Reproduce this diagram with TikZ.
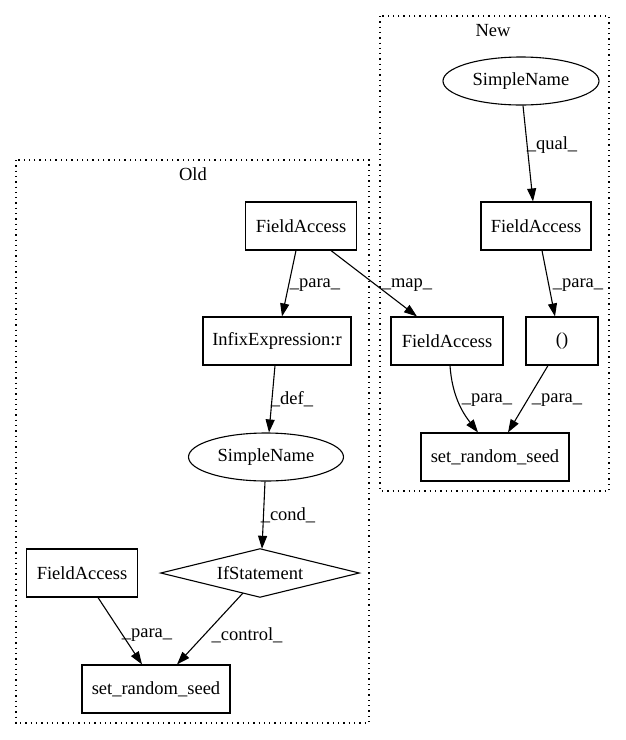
\documentclass[tikz,border=0pt]{standalone}
\usepackage{fontspec}
\setmainfont{Liberation Serif}
\usetikzlibrary{arrows.meta,shapes.geometric}
\begin{document}
\begin{tikzpicture}[x=1pt,y=-1pt,
  every node/.style={font=\fontsize{18.5}{22}\selectfont, inner sep=0pt},
  box/.style={draw, line width=1.1pt, rectangle, minimum height=48pt},
  oval/.style={draw, line width=1.1pt, ellipse, minimum width=156pt, minimum height=48pt},
  blank/.style={rectangle, minimum height=48pt},
  edge/.style={line width=1.1pt, -{Triangle[length=13pt,width=9pt]}},
  cluster/.style={line width=1.3pt, dash pattern=on 1.3pt off 4pt},
  lbl/.style={font=\fontsize{18.5}{22}\selectfont}]
\useasboundingbox (0,0) rectangle (625,740);
% clusters
\draw[cluster] (16,160) rectangle (369,723);
\draw[cluster] (380,16) rectangle (609,491);
\node (oldlbl) at (193,174) {Old};
\node (newlbl) at (493,31) {New};
% nodes
\node[oval] (snN) at (521,81) {SimpleName};
\node[box, minimum width=110pt] (faN) at (536,226) {FieldAccess};
\node[box, minimum width=111pt] (faO) at (301,226) {FieldAccess};
\node[box, minimum width=148pt] (infix) at (277,341) {InfixExpression:r};
\node[box, minimum width=112pt] (faM) at (447,341) {FieldAccess};
\node[box, minimum width=72pt] (par) at (562,341) {()};
\node[oval, minimum width=155pt] (snO) at (266,457) {SimpleName};
\node[box, minimum width=148pt] (srsN) at (495,457) {set\_random\_seed};
\node[box, minimum width=111pt] (faT) at (82,573) {FieldAccess};
\node[blank, minimum width=198pt] (ifs) at (260,573) {IfStatement};
\draw[line width=1.1pt] (ifs.west) -- (ifs.north) -- (ifs.east) -- (ifs.south) -- cycle;
\node[box, minimum width=148pt] (srsO) at (156,689) {set\_random\_seed};
% edges
\draw[edge] ([xshift=2pt]snN.south) -- ([xshift=-3pt]faN.north);
\node[lbl] (l1) at (552,145) {\_qual\_};
\draw[edge] ([xshift=6pt]faN.south) -- ([xshift=-7pt]par.north);
\node[lbl] (l2) at (578,285) {\_para\_};
\draw[edge] ([xshift=-5pt]faO.south) -- ([xshift=5pt]infix.north);
\node[lbl] (l3) at (315,285) {\_para\_};
\draw[edge] ([xshift=30pt]faO.south) -- ([xshift=-30pt]faM.north);
\node[lbl] (l4) at (407,285) {\_map\_};
\draw[edge] ([xshift=-2pt]infix.south) -- ([xshift=3pt]snO.north);
\node[lbl] (l5) at (292,399) {\_def\_};
\draw[edge] ([xshift=-1pt]snO.south) -- ([xshift=2pt]ifs.north);
\node[lbl] (l6) at (288,515) {\_cond\_};
\draw[edge] ([xshift=3pt]faM.south) .. controls (452,395) and (462,412) .. ([xshift=-17pt]srsN.north);
\node[lbl] (l7) at (487,400) {\_para\_};
\draw[edge] ([xshift=-14pt]par.south) -- ([xshift=13pt]srsN.north);
\node[lbl] (l8) at (557,400) {\_para\_};
\draw[edge] ([xshift=16pt]faT.south) -- ([xshift=-14pt]srsO.north);
\node[lbl] (l9) at (147,635) {\_para\_};
\draw[edge] ([shift={(-17,20)}]ifs.center) -- ([xshift=21pt]srsO.north);
\node[lbl] (l10) at (247,635) {\_control\_};
\end{tikzpicture}
\end{document}
